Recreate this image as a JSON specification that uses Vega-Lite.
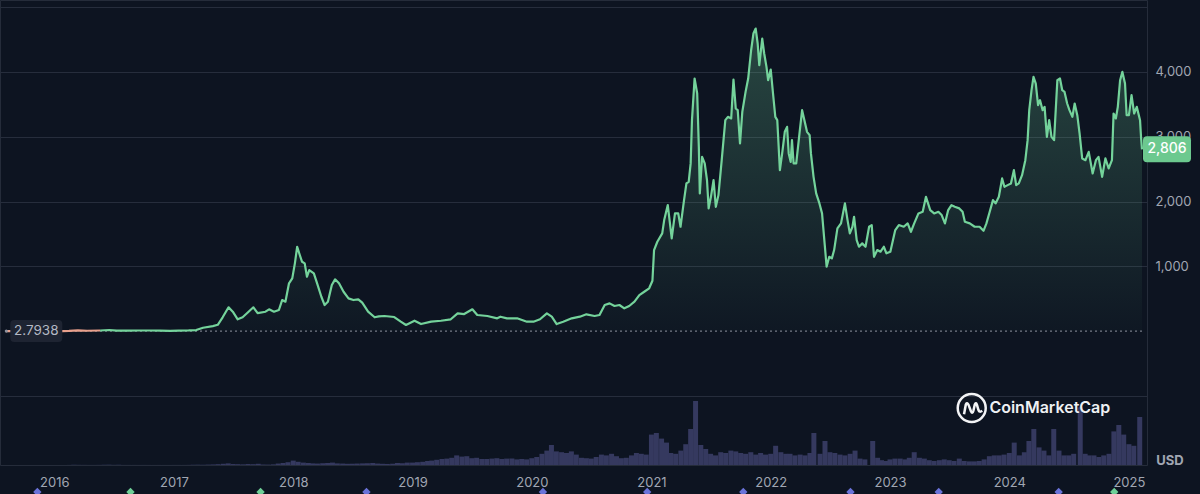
{
  "$schema": "https://vega.github.io/schema/vega-lite/v6.json",
  "width": 1147,
  "height": 465,
  "autosize": {"type": "none"},
  "padding": {"left": 0, "top": 0, "right": 53, "bottom": 29},
  "background": "#0d1421",
  "config": {
    "view": {"stroke": "#252c3a", "strokeWidth": 1},
    "font": "Inter",
    "axis": {"labelColor": "#a0a6b2", "labelFontSize": 13, "labelFont": "Inter", "domain": false, "ticks": false, "gridColor": "#262d3c"}
  },
  "datasets": {
    "price": [
      {"date": "2015-08-07", "price": 2.79}, {"date": "2015-08-20", "price": 1.4}, {"date": "2015-09-10", "price": 0.9},
      {"date": "2015-10-01", "price": 0.7}, {"date": "2015-10-20", "price": 0.45}, {"date": "2015-11-15", "price": 0.9},
      {"date": "2015-12-10", "price": 0.85}, {"date": "2016-01-05", "price": 0.95}, {"date": "2016-01-25", "price": 2.2},
      {"date": "2016-02-15", "price": 5}, {"date": "2016-03-13", "price": 14}, {"date": "2016-04-10", "price": 8.5},
      {"date": "2016-05-20", "price": 12}, {"date": "2016-06-17", "price": 20}, {"date": "2016-07-10", "price": 11},
      {"date": "2016-08-15", "price": 11}, {"date": "2016-09-15", "price": 12.5}, {"date": "2016-10-20", "price": 12},
      {"date": "2016-11-20", "price": 9.5}, {"date": "2016-12-20", "price": 7.5}, {"date": "2017-01-15", "price": 10},
      {"date": "2017-02-15", "price": 13}, {"date": "2017-03-10", "price": 19}, {"date": "2017-03-31", "price": 55},
      {"date": "2017-04-30", "price": 80}, {"date": "2017-05-15", "price": 100}, {"date": "2017-05-30", "price": 216},
      {"date": "2017-06-17", "price": 370}, {"date": "2017-06-30", "price": 302}, {"date": "2017-07-15", "price": 185},
      {"date": "2017-07-30", "price": 216}, {"date": "2017-08-14", "price": 287}, {"date": "2017-09-01", "price": 370},
      {"date": "2017-09-14", "price": 280}, {"date": "2017-10-08", "price": 302}, {"date": "2017-10-19", "price": 339},
      {"date": "2017-11-03", "price": 302}, {"date": "2017-11-18", "price": 328}, {"date": "2017-11-28", "price": 482},
      {"date": "2017-12-08", "price": 456}, {"date": "2017-12-19", "price": 740}, {"date": "2017-12-29", "price": 816},
      {"date": "2018-01-06", "price": 1048}, {"date": "2018-01-13", "price": 1304}, {"date": "2018-01-21", "price": 1176},
      {"date": "2018-01-28", "price": 1072}, {"date": "2018-02-05", "price": 1048}, {"date": "2018-02-12", "price": 841},
      {"date": "2018-02-19", "price": 944}, {"date": "2018-03-05", "price": 894}, {"date": "2018-03-15", "price": 740},
      {"date": "2018-03-28", "price": 533}, {"date": "2018-04-07", "price": 405}, {"date": "2018-04-17", "price": 456},
      {"date": "2018-04-29", "price": 713}, {"date": "2018-05-09", "price": 801}, {"date": "2018-05-21", "price": 740},
      {"date": "2018-06-04", "price": 610}, {"date": "2018-06-19", "price": 508}, {"date": "2018-07-04", "price": 482},
      {"date": "2018-07-19", "price": 493}, {"date": "2018-07-31", "price": 441}, {"date": "2018-08-18", "price": 302},
      {"date": "2018-09-07", "price": 216}, {"date": "2018-09-20", "price": 230}, {"date": "2018-10-07", "price": 236},
      {"date": "2018-11-06", "price": 220}, {"date": "2018-11-26", "price": 148}, {"date": "2018-12-12", "price": 97},
      {"date": "2019-01-07", "price": 163}, {"date": "2019-01-27", "price": 112}, {"date": "2019-02-27", "price": 148},
      {"date": "2019-03-29", "price": 163}, {"date": "2019-04-28", "price": 185}, {"date": "2019-05-19", "price": 277},
      {"date": "2019-06-08", "price": 266}, {"date": "2019-07-03", "price": 339}, {"date": "2019-07-18", "price": 251},
      {"date": "2019-08-18", "price": 236}, {"date": "2019-09-17", "price": 200}, {"date": "2019-09-27", "price": 225},
      {"date": "2019-10-17", "price": 200}, {"date": "2019-11-17", "price": 200}, {"date": "2019-12-17", "price": 148},
      {"date": "2020-01-06", "price": 148}, {"date": "2020-01-26", "price": 185}, {"date": "2020-02-16", "price": 277},
      {"date": "2020-03-02", "price": 225}, {"date": "2020-03-17", "price": 112}, {"date": "2020-04-06", "price": 148},
      {"date": "2020-05-02", "price": 200}, {"date": "2020-05-27", "price": 225}, {"date": "2020-06-16", "price": 262},
      {"date": "2020-07-11", "price": 236}, {"date": "2020-07-26", "price": 251}, {"date": "2020-08-11", "price": 405},
      {"date": "2020-08-26", "price": 431}, {"date": "2020-09-10", "price": 390}, {"date": "2020-09-25", "price": 405},
      {"date": "2020-10-10", "price": 354}, {"date": "2020-10-25", "price": 390}, {"date": "2020-11-10", "price": 456},
      {"date": "2020-11-25", "price": 559}, {"date": "2020-12-10", "price": 610}, {"date": "2020-12-25", "price": 663},
      {"date": "2021-01-04", "price": 780}, {"date": "2021-01-09", "price": 1253}, {"date": "2021-01-19", "price": 1381},
      {"date": "2021-02-03", "price": 1510}, {"date": "2021-02-09", "price": 1715}, {"date": "2021-02-20", "price": 1946},
      {"date": "2021-03-04", "price": 1433}, {"date": "2021-03-14", "price": 1818}, {"date": "2021-03-24", "price": 1818},
      {"date": "2021-03-31", "price": 1612}, {"date": "2021-04-10", "price": 1997}, {"date": "2021-04-18", "price": 2280},
      {"date": "2021-04-25", "price": 2305}, {"date": "2021-05-01", "price": 2589}, {"date": "2021-05-05", "price": 3256},
      {"date": "2021-05-13", "price": 3898}, {"date": "2021-05-21", "price": 3667}, {"date": "2021-05-26", "price": 2844},
      {"date": "2021-05-29", "price": 2126}, {"date": "2021-06-05", "price": 2690}, {"date": "2021-06-13", "price": 2589},
      {"date": "2021-06-20", "price": 2331}, {"date": "2021-06-25", "price": 1895}, {"date": "2021-07-02", "price": 2074},
      {"date": "2021-07-10", "price": 2331}, {"date": "2021-07-17", "price": 1920}, {"date": "2021-07-25", "price": 2100},
      {"date": "2021-08-04", "price": 2639}, {"date": "2021-08-15", "price": 3256}, {"date": "2021-08-23", "price": 3307},
      {"date": "2021-09-02", "price": 3282}, {"date": "2021-09-09", "price": 3883}, {"date": "2021-09-16", "price": 3436},
      {"date": "2021-09-22", "price": 3410}, {"date": "2021-09-29", "price": 2897}, {"date": "2021-10-06", "price": 3384},
      {"date": "2021-10-16", "price": 3692}, {"date": "2021-10-24", "price": 3898}, {"date": "2021-11-02", "price": 4334},
      {"date": "2021-11-09", "price": 4592}, {"date": "2021-11-16", "price": 4669}, {"date": "2021-11-22", "price": 4438},
      {"date": "2021-11-27", "price": 4103}, {"date": "2021-12-06", "price": 4515}, {"date": "2021-12-12", "price": 4284},
      {"date": "2021-12-19", "price": 4077}, {"date": "2021-12-24", "price": 3872}, {"date": "2022-01-01", "price": 4037},
      {"date": "2022-01-08", "price": 3667}, {"date": "2022-01-15", "price": 3307}, {"date": "2022-01-21", "price": 3256},
      {"date": "2022-01-29", "price": 2485}, {"date": "2022-02-05", "price": 2743}, {"date": "2022-02-13", "price": 3076},
      {"date": "2022-02-20", "price": 3153}, {"date": "2022-02-25", "price": 2743}, {"date": "2022-03-03", "price": 2613},
      {"date": "2022-03-07", "price": 2948}, {"date": "2022-03-12", "price": 2589}, {"date": "2022-03-20", "price": 2589},
      {"date": "2022-03-30", "price": 3051}, {"date": "2022-04-07", "price": 3410}, {"date": "2022-04-14", "price": 3256},
      {"date": "2022-04-22", "price": 3076}, {"date": "2022-04-30", "price": 3025}, {"date": "2022-05-04", "price": 2743},
      {"date": "2022-05-12", "price": 2382}, {"date": "2022-05-20", "price": 2126}, {"date": "2022-05-30", "price": 1972},
      {"date": "2022-06-07", "price": 1818}, {"date": "2022-06-14", "price": 1407}, {"date": "2022-06-21", "price": 995},
      {"date": "2022-06-29", "price": 1149}, {"date": "2022-07-07", "price": 1125}, {"date": "2022-07-14", "price": 1253},
      {"date": "2022-07-24", "price": 1587}, {"date": "2022-08-04", "price": 1664}, {"date": "2022-08-16", "price": 1972},
      {"date": "2022-08-24", "price": 1715}, {"date": "2022-08-31", "price": 1510}, {"date": "2022-09-08", "price": 1612},
      {"date": "2022-09-13", "price": 1766}, {"date": "2022-09-21", "price": 1407}, {"date": "2022-09-28", "price": 1304},
      {"date": "2022-10-08", "price": 1356}, {"date": "2022-10-18", "price": 1304}, {"date": "2022-10-29", "price": 1612},
      {"date": "2022-11-06", "price": 1638}, {"date": "2022-11-13", "price": 1149}, {"date": "2022-11-23", "price": 1253},
      {"date": "2022-12-03", "price": 1227}, {"date": "2022-12-13", "price": 1304}, {"date": "2022-12-21", "price": 1202},
      {"date": "2023-01-02", "price": 1227}, {"date": "2023-01-17", "price": 1561}, {"date": "2023-01-28", "price": 1638},
      {"date": "2023-02-12", "price": 1612}, {"date": "2023-02-24", "price": 1664}, {"date": "2023-03-06", "price": 1535},
      {"date": "2023-03-16", "price": 1664}, {"date": "2023-03-29", "price": 1818}, {"date": "2023-04-11", "price": 1843},
      {"date": "2023-04-21", "price": 2074}, {"date": "2023-05-04", "price": 1869}, {"date": "2023-05-16", "price": 1818},
      {"date": "2023-05-29", "price": 1843}, {"date": "2023-06-08", "price": 1792}, {"date": "2023-06-18", "price": 1664},
      {"date": "2023-06-28", "price": 1869}, {"date": "2023-07-08", "price": 1946}, {"date": "2023-07-18", "price": 1920},
      {"date": "2023-08-01", "price": 1895}, {"date": "2023-08-11", "price": 1843}, {"date": "2023-08-18", "price": 1689},
      {"date": "2023-09-02", "price": 1664}, {"date": "2023-09-17", "price": 1612}, {"date": "2023-10-02", "price": 1612},
      {"date": "2023-10-14", "price": 1550}, {"date": "2023-10-23", "price": 1664}, {"date": "2023-11-02", "price": 1843},
      {"date": "2023-11-12", "price": 2023}, {"date": "2023-11-20", "price": 1972}, {"date": "2023-11-30", "price": 2074},
      {"date": "2023-12-10", "price": 2357}, {"date": "2023-12-17", "price": 2228}, {"date": "2023-12-27", "price": 2254},
      {"date": "2024-01-06", "price": 2280}, {"date": "2024-01-15", "price": 2485}, {"date": "2024-01-22", "price": 2254},
      {"date": "2024-01-30", "price": 2280}, {"date": "2024-02-09", "price": 2408}, {"date": "2024-02-19", "price": 2639},
      {"date": "2024-02-26", "price": 2948}, {"date": "2024-03-02", "price": 3410}, {"date": "2024-03-09", "price": 3718},
      {"date": "2024-03-15", "price": 3923}, {"date": "2024-03-22", "price": 3821}, {"date": "2024-03-29", "price": 3487},
      {"date": "2024-04-04", "price": 3564}, {"date": "2024-04-12", "price": 3410}, {"date": "2024-04-18", "price": 3461},
      {"date": "2024-04-25", "price": 2998}, {"date": "2024-05-02", "price": 3256}, {"date": "2024-05-09", "price": 2998},
      {"date": "2024-05-17", "price": 2948}, {"date": "2024-05-27", "price": 3872}, {"date": "2024-06-04", "price": 3898},
      {"date": "2024-06-11", "price": 3718}, {"date": "2024-06-18", "price": 3692}, {"date": "2024-06-26", "price": 3513},
      {"date": "2024-07-03", "price": 3410}, {"date": "2024-07-12", "price": 3307}, {"date": "2024-07-19", "price": 3513},
      {"date": "2024-07-27", "price": 3333}, {"date": "2024-08-03", "price": 3051}, {"date": "2024-08-11", "price": 2666},
      {"date": "2024-08-21", "price": 2639}, {"date": "2024-08-31", "price": 2767}, {"date": "2024-09-12", "price": 2434},
      {"date": "2024-09-22", "price": 2639}, {"date": "2024-09-30", "price": 2690}, {"date": "2024-10-11", "price": 2382},
      {"date": "2024-10-21", "price": 2666}, {"date": "2024-10-31", "price": 2511}, {"date": "2024-11-10", "price": 2639},
      {"date": "2024-11-15", "price": 3359}, {"date": "2024-11-22", "price": 3282}, {"date": "2024-11-28", "price": 3461},
      {"date": "2024-12-05", "price": 3872}, {"date": "2024-12-12", "price": 4000}, {"date": "2024-12-20", "price": 3821},
      {"date": "2024-12-25", "price": 3333}, {"date": "2025-01-01", "price": 3333}, {"date": "2025-01-09", "price": 3641},
      {"date": "2025-01-17", "price": 3359}, {"date": "2025-01-25", "price": 3461}, {"date": "2025-02-04", "price": 3256},
      {"date": "2025-02-07", "price": 2998}, {"date": "2025-02-10", "price": 2806}
    ],
    "volume": [
      {"date": "2015-08-16", "volume": 0.02}, {"date": "2015-09-01", "volume": 0.02}, {"date": "2015-09-16", "volume": 0.02},
      {"date": "2015-10-01", "volume": 0.01}, {"date": "2015-10-16", "volume": 0.01}, {"date": "2015-11-01", "volume": 0.02},
      {"date": "2015-11-16", "volume": 0.01}, {"date": "2015-12-01", "volume": 0.01}, {"date": "2015-12-16", "volume": 0.02},
      {"date": "2016-01-01", "volume": 0.02}, {"date": "2016-01-16", "volume": 0.03}, {"date": "2016-02-01", "volume": 0.05},
      {"date": "2016-02-16", "volume": 0.1}, {"date": "2016-03-01", "volume": 0.3}, {"date": "2016-03-16", "volume": 0.2},
      {"date": "2016-04-01", "volume": 0.15}, {"date": "2016-04-16", "volume": 0.1}, {"date": "2016-05-01", "volume": 0.1},
      {"date": "2016-05-16", "volume": 0.15}, {"date": "2016-06-01", "volume": 0.3}, {"date": "2016-06-16", "volume": 0.4},
      {"date": "2016-07-01", "volume": 0.2}, {"date": "2016-07-16", "volume": 0.3}, {"date": "2016-08-01", "volume": 0.1},
      {"date": "2016-08-16", "volume": 0.1}, {"date": "2016-09-01", "volume": 0.1}, {"date": "2016-09-16", "volume": 0.08},
      {"date": "2016-10-01", "volume": 0.1}, {"date": "2016-10-16", "volume": 0.08}, {"date": "2016-11-01", "volume": 0.06},
      {"date": "2016-11-16", "volume": 0.08}, {"date": "2016-12-01", "volume": 0.05}, {"date": "2016-12-16", "volume": 0.06},
      {"date": "2017-01-01", "volume": 0.1}, {"date": "2017-01-16", "volume": 0.1}, {"date": "2017-02-01", "volume": 0.1},
      {"date": "2017-02-16", "volume": 0.15}, {"date": "2017-03-01", "volume": 0.3}, {"date": "2017-03-16", "volume": 0.4},
      {"date": "2017-04-01", "volume": 0.3}, {"date": "2017-04-16", "volume": 0.5}, {"date": "2017-05-01", "volume": 0.7},
      {"date": "2017-05-16", "volume": 1.0}, {"date": "2017-06-01", "volume": 1.5}, {"date": "2017-06-16", "volume": 2.0},
      {"date": "2017-07-01", "volume": 1.2}, {"date": "2017-07-16", "volume": 1.0}, {"date": "2017-08-01", "volume": 0.8},
      {"date": "2017-08-16", "volume": 1.2}, {"date": "2017-09-01", "volume": 1.0}, {"date": "2017-09-16", "volume": 1.5},
      {"date": "2017-10-01", "volume": 0.6}, {"date": "2017-10-16", "volume": 0.5}, {"date": "2017-11-01", "volume": 0.8},
      {"date": "2017-11-16", "volume": 1.8}, {"date": "2017-12-01", "volume": 2.5}, {"date": "2017-12-16", "volume": 3.5},
      {"date": "2018-01-01", "volume": 5.5}, {"date": "2018-01-16", "volume": 4.0}, {"date": "2018-02-01", "volume": 3.0},
      {"date": "2018-02-16", "volume": 2.5}, {"date": "2018-03-01", "volume": 2.0}, {"date": "2018-03-16", "volume": 1.8},
      {"date": "2018-04-01", "volume": 2.2}, {"date": "2018-04-16", "volume": 2.5}, {"date": "2018-05-01", "volume": 3.0},
      {"date": "2018-05-16", "volume": 2.0}, {"date": "2018-06-01", "volume": 1.8}, {"date": "2018-06-16", "volume": 1.5},
      {"date": "2018-07-01", "volume": 1.6}, {"date": "2018-07-16", "volume": 1.8}, {"date": "2018-08-01", "volume": 2.0},
      {"date": "2018-08-16", "volume": 2.2}, {"date": "2018-09-01", "volume": 2.5}, {"date": "2018-09-16", "volume": 1.8},
      {"date": "2018-10-01", "volume": 1.5}, {"date": "2018-10-16", "volume": 1.3}, {"date": "2018-11-01", "volume": 1.6},
      {"date": "2018-11-16", "volume": 2.5}, {"date": "2018-12-01", "volume": 2.2}, {"date": "2018-12-16", "volume": 3.0},
      {"date": "2019-01-01", "volume": 3.0}, {"date": "2019-01-16", "volume": 3.5}, {"date": "2019-02-01", "volume": 4.0},
      {"date": "2019-02-16", "volume": 5.0}, {"date": "2019-03-01", "volume": 5.5}, {"date": "2019-03-16", "volume": 6.5},
      {"date": "2019-04-01", "volume": 7.5}, {"date": "2019-04-16", "volume": 8.0}, {"date": "2019-05-01", "volume": 9.0},
      {"date": "2019-05-16", "volume": 12.0}, {"date": "2019-06-01", "volume": 10.5}, {"date": "2019-06-16", "volume": 11.0},
      {"date": "2019-07-01", "volume": 8.5}, {"date": "2019-07-16", "volume": 9.0}, {"date": "2019-08-01", "volume": 7.5},
      {"date": "2019-08-16", "volume": 7.5}, {"date": "2019-09-01", "volume": 8.0}, {"date": "2019-09-16", "volume": 8.5},
      {"date": "2019-10-01", "volume": 7.5}, {"date": "2019-10-16", "volume": 8.0}, {"date": "2019-11-01", "volume": 8.0},
      {"date": "2019-11-16", "volume": 7.0}, {"date": "2019-12-01", "volume": 7.5}, {"date": "2019-12-16", "volume": 7.0},
      {"date": "2020-01-01", "volume": 8.5}, {"date": "2020-01-16", "volume": 10}, {"date": "2020-02-01", "volume": 14},
      {"date": "2020-02-16", "volume": 18}, {"date": "2020-03-01", "volume": 25}, {"date": "2020-03-16", "volume": 17},
      {"date": "2020-04-01", "volume": 16}, {"date": "2020-04-16", "volume": 15}, {"date": "2020-05-01", "volume": 17},
      {"date": "2020-05-16", "volume": 13}, {"date": "2020-06-01", "volume": 9}, {"date": "2020-06-16", "volume": 8.5},
      {"date": "2020-07-01", "volume": 8}, {"date": "2020-07-16", "volume": 10}, {"date": "2020-08-01", "volume": 13},
      {"date": "2020-08-16", "volume": 12}, {"date": "2020-09-01", "volume": 14}, {"date": "2020-09-16", "volume": 11},
      {"date": "2020-10-01", "volume": 8.5}, {"date": "2020-10-16", "volume": 9}, {"date": "2020-11-01", "volume": 12},
      {"date": "2020-11-16", "volume": 15}, {"date": "2020-12-01", "volume": 14}, {"date": "2020-12-16", "volume": 13},
      {"date": "2021-01-01", "volume": 38}, {"date": "2021-01-16", "volume": 40}, {"date": "2021-02-01", "volume": 33},
      {"date": "2021-02-16", "volume": 28}, {"date": "2021-03-01", "volume": 15}, {"date": "2021-03-16", "volume": 14},
      {"date": "2021-04-01", "volume": 18}, {"date": "2021-04-16", "volume": 26}, {"date": "2021-05-01", "volume": 45},
      {"date": "2021-05-16", "volume": 80}, {"date": "2021-06-01", "volume": 25}, {"date": "2021-06-16", "volume": 20},
      {"date": "2021-07-01", "volume": 14}, {"date": "2021-07-16", "volume": 12}, {"date": "2021-08-01", "volume": 16},
      {"date": "2021-08-16", "volume": 15}, {"date": "2021-09-01", "volume": 18}, {"date": "2021-09-16", "volume": 17},
      {"date": "2021-10-01", "volume": 15}, {"date": "2021-10-16", "volume": 14}, {"date": "2021-11-01", "volume": 16},
      {"date": "2021-11-16", "volume": 13}, {"date": "2021-12-01", "volume": 15}, {"date": "2021-12-16", "volume": 13},
      {"date": "2022-01-01", "volume": 14}, {"date": "2022-01-16", "volume": 24}, {"date": "2022-02-01", "volume": 16},
      {"date": "2022-02-16", "volume": 14}, {"date": "2022-03-01", "volume": 14}, {"date": "2022-03-16", "volume": 12},
      {"date": "2022-04-01", "volume": 13}, {"date": "2022-04-16", "volume": 12}, {"date": "2022-05-01", "volume": 15},
      {"date": "2022-05-13", "volume": 40}, {"date": "2022-06-01", "volume": 14}, {"date": "2022-06-16", "volume": 30},
      {"date": "2022-07-01", "volume": 16}, {"date": "2022-07-16", "volume": 15}, {"date": "2022-08-01", "volume": 13},
      {"date": "2022-08-16", "volume": 12}, {"date": "2022-09-01", "volume": 14}, {"date": "2022-09-16", "volume": 18},
      {"date": "2022-10-01", "volume": 8}, {"date": "2022-10-16", "volume": 7}, {"date": "2022-11-09", "volume": 30},
      {"date": "2022-11-24", "volume": 9}, {"date": "2022-12-06", "volume": 6}, {"date": "2022-12-20", "volume": 5},
      {"date": "2023-01-01", "volume": 7}, {"date": "2023-01-16", "volume": 8}, {"date": "2023-02-01", "volume": 8},
      {"date": "2023-02-16", "volume": 7}, {"date": "2023-03-01", "volume": 9}, {"date": "2023-03-16", "volume": 16},
      {"date": "2023-04-01", "volume": 9}, {"date": "2023-04-16", "volume": 8}, {"date": "2023-05-01", "volume": 6},
      {"date": "2023-05-16", "volume": 5}, {"date": "2023-06-01", "volume": 6}, {"date": "2023-06-16", "volume": 7},
      {"date": "2023-07-01", "volume": 6}, {"date": "2023-07-16", "volume": 5}, {"date": "2023-08-01", "volume": 8},
      {"date": "2023-08-16", "volume": 5}, {"date": "2023-09-01", "volume": 4.5}, {"date": "2023-09-16", "volume": 4.5},
      {"date": "2023-10-01", "volume": 5}, {"date": "2023-10-16", "volume": 7}, {"date": "2023-11-01", "volume": 11},
      {"date": "2023-11-16", "volume": 12}, {"date": "2023-12-01", "volume": 12}, {"date": "2023-12-16", "volume": 13},
      {"date": "2024-01-01", "volume": 15}, {"date": "2024-01-16", "volume": 28}, {"date": "2024-02-01", "volume": 12},
      {"date": "2024-02-16", "volume": 16}, {"date": "2024-03-01", "volume": 30}, {"date": "2024-03-16", "volume": 45},
      {"date": "2024-04-01", "volume": 22}, {"date": "2024-04-16", "volume": 18}, {"date": "2024-05-01", "volume": 12},
      {"date": "2024-05-16", "volume": 45}, {"date": "2024-06-01", "volume": 18}, {"date": "2024-06-16", "volume": 12},
      {"date": "2024-07-01", "volume": 12}, {"date": "2024-07-16", "volume": 14}, {"date": "2024-08-05", "volume": 72},
      {"date": "2024-08-20", "volume": 14}, {"date": "2024-09-01", "volume": 12}, {"date": "2024-09-16", "volume": 12},
      {"date": "2024-10-01", "volume": 10}, {"date": "2024-10-16", "volume": 12}, {"date": "2024-11-01", "volume": 14},
      {"date": "2024-11-16", "volume": 42}, {"date": "2024-12-01", "volume": 50}, {"date": "2024-12-16", "volume": 38},
      {"date": "2025-01-01", "volume": 26}, {"date": "2025-01-16", "volume": 24}, {"date": "2025-02-03", "volume": 60}
    ],
    "events": [
      {"date": "2015-11-10", "kind": "blue"}, {"date": "2016-08-21", "kind": "green"}, {"date": "2017-09-23", "kind": "green"},
      {"date": "2018-08-13", "kind": "blue"}, {"date": "2020-02-04", "kind": "blue"}, {"date": "2020-12-19", "kind": "blue"},
      {"date": "2021-10-09", "kind": "blue"}, {"date": "2022-09-02", "kind": "blue"}, {"date": "2023-05-30", "kind": "blue"},
      {"date": "2024-05-31", "kind": "blue"}, {"date": "2024-11-17", "kind": "green"}
    ]
  },
  "layer": [
    {
      "data": {"name": "volume"},
      "mark": {"type": "bar", "size": 5, "color": "#35395f"},
      "encoding": {
        "x": {
          "field": "date",
          "type": "temporal",
          "title": null,
          "scale": {"domain": [{"year": 2015, "month": 8, "date": 3}, {"year": 2025, "month": 2, "date": 10}]},
          "axis": {
            "format": "%Y",
            "tickCount": {"interval": "year", "step": 1},
            "grid": false,
            "labelPadding": 11,
            "labelFlush": false
          }
        },
        "y": {"field": "volume", "type": "quantitative", "title": null, "scale": {"domain": [0, 581], "nice": false, "zero": true}, "axis": null}
      }
    },
    {
      "layer": [
        {
          "data": {"name": "price"},
          "mark": {
            "type": "area",
            "color": {
              "x1": 0, "y1": 0, "x2": 0, "y2": 1,
              "gradient": "linear",
              "stops": [
                {"offset": 0, "color": "rgba(114,209,154,0.27)"},
                {"offset": 1, "color": "rgba(114,209,154,0.02)"}
              ]
            }
          },
          "encoding": {
            "x": {"field": "date", "type": "temporal", "title": null},
            "y": {
              "field": "price",
              "type": "quantitative",
              "title": null,
              "scale": {"domain": [-2062, 5109], "nice": false, "zero": false},
              "axis": {
                "orient": "right",
                "values": [-1000, 1000, 2000, 3000, 4000, 5000],
                "labelExpr": "datum.value >= 1000 && datum.value <= 4000 ? format(datum.value, ',') : ''",
                "grid": true,
                "labelPadding": 8
              }
            },
            "y2": {"datum": 2.7938}
          }
        },
        {
          "data": {"values": [{}]},
          "mark": {"type": "rule", "color": "#8d93a0", "strokeDash": [2, 3], "strokeWidth": 1},
          "encoding": {
            "x": {"datum": {"year": 2015, "month": 8, "date": 3}, "type": "temporal", "title": null},
            "x2": {"datum": {"year": 2025, "month": 2, "date": 10}},
            "y": {"datum": 2.7938, "type": "quantitative", "title": null}
          }
        },
        {
          "data": {"name": "price"},
          "transform": [{"filter": {"field": "date", "lte": {"year": 2016, "month": 5, "date": 20}}}],
          "mark": {"type": "line", "color": "#e8a08c", "strokeWidth": 2.2},
          "encoding": {
            "x": {"field": "date", "type": "temporal", "title": null},
            "y": {"field": "price", "type": "quantitative", "title": null}
          }
        },
        {
          "data": {"name": "price"},
          "transform": [{"filter": {"field": "date", "gte": {"year": 2016, "month": 5, "date": 20}}}],
          "mark": {"type": "line", "color": "#74d39b", "strokeWidth": 2.2, "strokeJoin": "round"},
          "encoding": {
            "x": {"field": "date", "type": "temporal", "title": null},
            "y": {"field": "price", "type": "quantitative", "title": null}
          }
        },
        {
          "data": {"values": [{"date": "2015-08-07", "price": 2.7938}]},
          "encoding": {
            "x": {"field": "date", "type": "temporal", "title": null},
            "y": {"field": "price", "type": "quantitative", "title": null}
          },
          "layer": [
            {"mark": {"type": "point", "filled": true, "size": 10, "color": "#8d93a0", "opacity": 1}},
            {
              "mark": {
                "type": "point",
                "filled": true,
                "opacity": 1,
                "color": "#1e2432",
                "size": 2704,
                "xOffset": 30,
                "shape": "M-0.846,-0.423 L0.846,-0.423 Q1,-0.423 1,-0.269 L1,0.269 Q1,0.423 0.846,0.423 L-0.846,0.423 Q-1,0.423 -1,0.269 L-1,-0.269 Q-1,-0.423 -0.846,-0.423 Z"
              }
            },
            {
              "mark": {"type": "text", "xOffset": 30, "color": "#b4b9c4", "fontSize": 13.5, "font": "Inter"},
              "encoding": {"text": {"field": "price", "type": "quantitative", "format": ".4f"}}
            }
          ]
        },
        {
          "data": {"values": [{"date": "2025-02-10", "price": 2806}]},
          "encoding": {
            "x": {"field": "date", "type": "temporal", "title": null},
            "y": {"field": "price", "type": "quantitative", "title": null}
          },
          "layer": [
            {
              "mark": {
                "type": "point",
                "filled": true,
                "opacity": 1,
                "color": "#6cc98f",
                "size": 2304,
                "xOffset": 25,
                "shape": "M-0.833,-0.542 L0.833,-0.542 Q1,-0.542 1,-0.375 L1,0.375 Q1,0.542 0.833,0.542 L-0.833,0.542 Q-1,0.542 -1,0.375 L-1,-0.375 Q-1,-0.542 -0.833,-0.542 Z"
              }
            },
            {
              "mark": {"type": "text", "xOffset": 25, "color": "#ffffff", "fontSize": 14, "fontWeight": 500, "font": "Inter"},
              "encoding": {"text": {"field": "price", "type": "quantitative", "format": ","}}
            }
          ]
        },
        {
          "data": {"values": [{}]},
          "mark": {"type": "point", "shape": "circle", "size": 784, "filled": false, "color": "#f2f3f5", "strokeWidth": 2.5, "opacity": 1},
          "encoding": {
            "x": {"datum": {"year": 2023, "month": 9, "date": 8}, "type": "temporal", "title": null},
            "y": {"datum": -1182, "type": "quantitative", "title": null}
          }
        },
        {
          "data": {"values": [{}]},
          "mark": {
            "type": "point",
            "shape": "M-0.55,0.45 L-0.42,-0.25 Q-0.35,-0.45 -0.22,-0.2 L-0.05,0.25 Q0.05,0.45 0.12,0.2 L0.22,-0.25 Q0.3,-0.45 0.38,-0.2 L0.48,0.15 Q0.55,0.35 0.75,0.2",
            "size": 784, "filled": false, "color": "#f2f3f5", "strokeWidth": 2.5, "opacity": 1
          },
          "encoding": {
            "x": {"datum": {"year": 2023, "month": 9, "date": 8}, "type": "temporal", "title": null},
            "y": {"datum": -1182, "type": "quantitative", "title": null}
          }
        },
        {
          "data": {"values": [{}]},
          "mark": {"type": "text", "align": "left", "baseline": "middle", "fontSize": 16, "fontWeight": 600, "font": "Inter", "color": "#eef0f3"},
          "encoding": {
            "x": {"datum": {"year": 2023, "month": 11, "date": 1}, "type": "temporal", "title": null},
            "y": {"datum": -1182, "type": "quantitative", "title": null},
            "text": {"value": "CoinMarketCap"}
          }
        },
        {
          "data": {"values": [{}]},
          "mark": {"type": "text", "align": "center", "baseline": "middle", "fontSize": 13, "fontWeight": 700, "font": "Inter", "color": "#a0a6b2", "xOffset": 28},
          "encoding": {
            "x": {"datum": {"year": 2025, "month": 2, "date": 10}, "type": "temporal", "title": null},
            "y": {"datum": -2000, "type": "quantitative", "title": null},
            "text": {"value": "USD"}
          }
        },
        {
          "data": {"name": "events"},
          "mark": {"type": "point", "shape": "diamond", "filled": true, "size": 70, "opacity": 1, "yOffset": 27},
          "encoding": {
            "x": {"field": "date", "type": "temporal", "title": null},
            "y": {"datum": -2062, "type": "quantitative", "title": null},
            "color": {"field": "kind", "type": "nominal", "scale": {"domain": ["blue", "green"], "range": ["#6a73d9", "#6fcf97"]}, "legend": null}
          }
        }
      ]
    }
  ],
  "resolve": {"scale": {"y": "independent"}}
}
